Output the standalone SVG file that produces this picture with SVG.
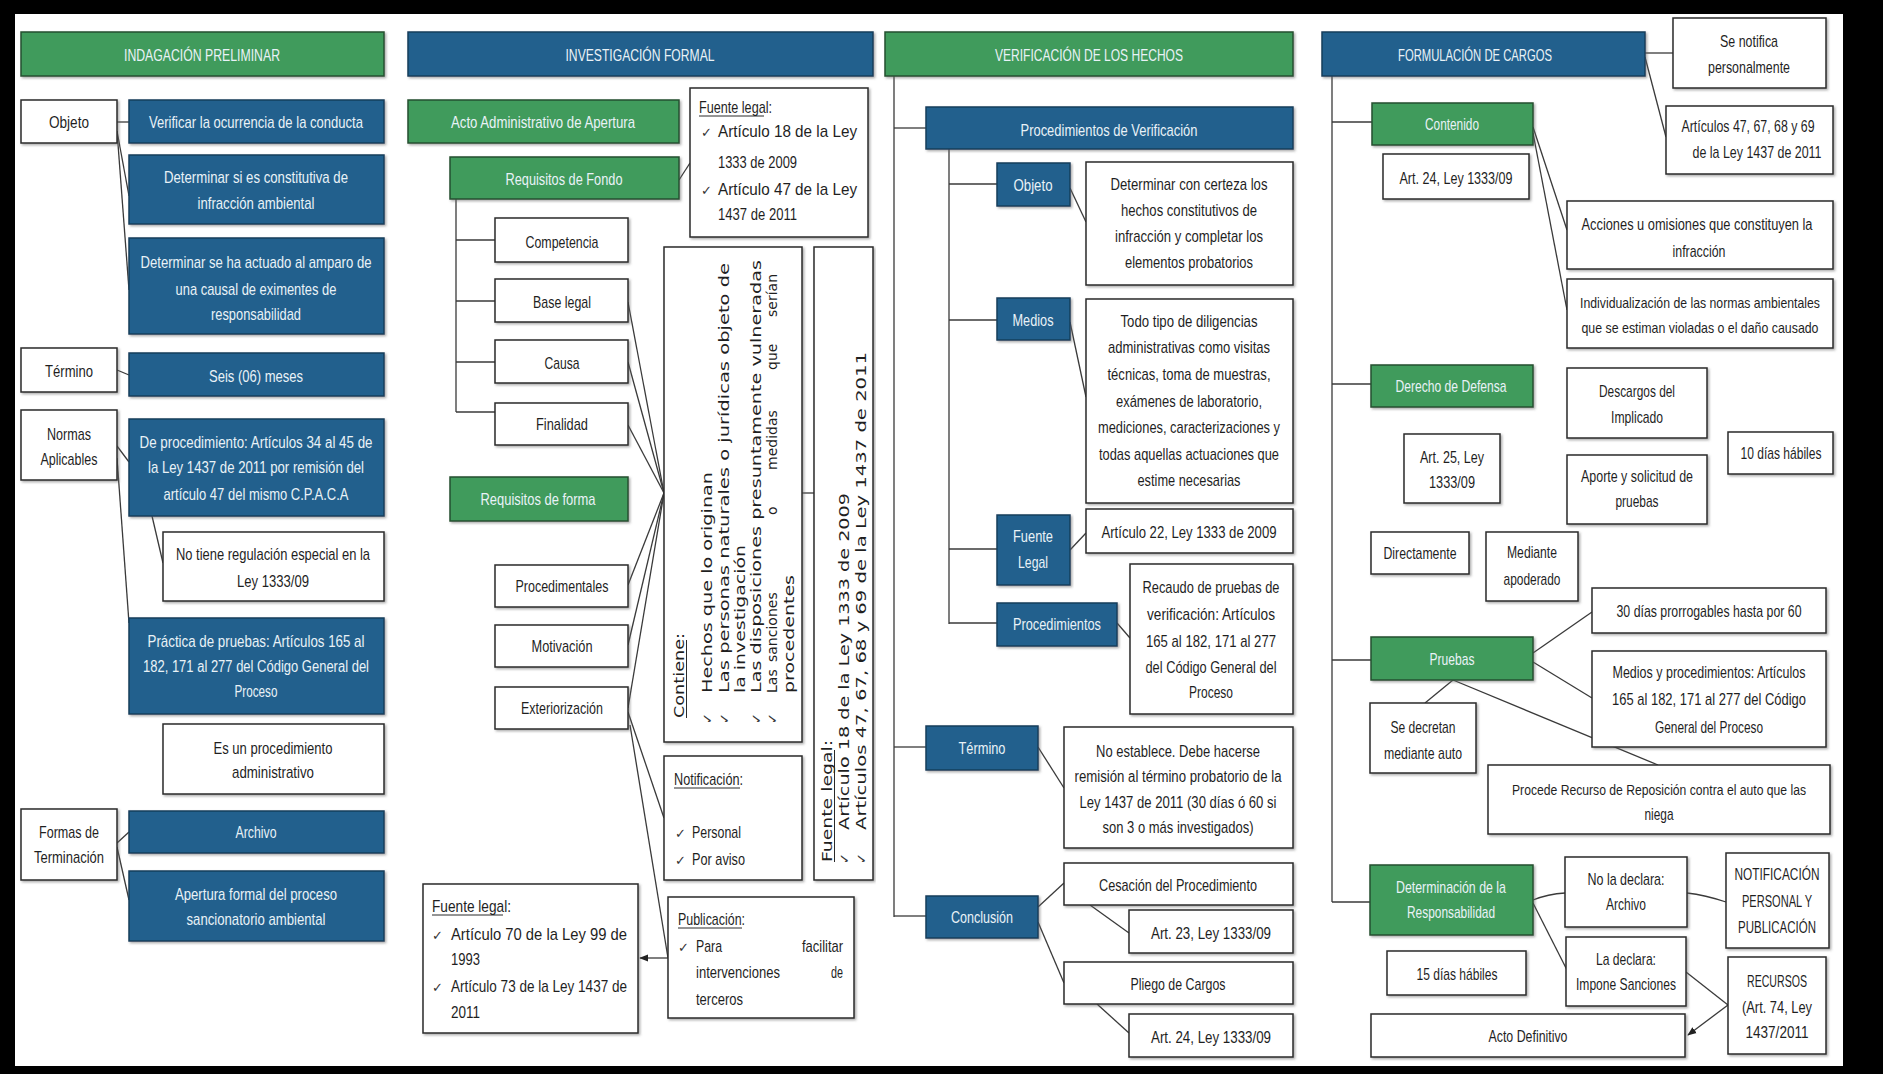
<svg xmlns="http://www.w3.org/2000/svg" width="1883" height="1074" viewBox="0 0 1883 1074">
<defs>
<filter id="sh" x="-5%" y="-5%" width="110%" height="115%"><feDropShadow dx="1.5" dy="1.5" stdDeviation="0.8" flood-color="#666" flood-opacity="0.55"/></filter>
<marker id="ah" viewBox="0 0 10 10" refX="9" refY="5" markerWidth="7" markerHeight="7" orient="auto"><path d="M0,1 L10,5 L0,9 z" fill="#222"/></marker>
</defs>
<style>
text{font-family:"Liberation Sans Narrow","Liberation Sans",Arial,sans-serif;font-size:17px;text-anchor:middle;fill:#1f1f1f}
.nb rect{fill:#23608d;stroke:#173e5c;stroke-width:1.5;filter:url(#sh)}
.ng rect{fill:#419b5c;stroke:#24502f;stroke-width:1.5;filter:url(#sh)}
.nw rect{fill:#fff;stroke:#2a2a2a;stroke-width:1.5;filter:url(#sh)}
.nb text,.ng text{fill:#e9f2f7}
text.lt{text-anchor:start}
text.en{text-anchor:end}
text.sm{font-size:16px}
text.xs{font-size:15px}
text.xxs{font-size:14px}
text.rt{font-family:"DejaVu Sans",Verdana,sans-serif;font-size:14px;text-anchor:start}
text.ck{font-family:"DejaVu Sans",sans-serif;font-size:13px;text-anchor:start;fill:#333}
.ul{stroke:#2a2a2a;stroke-width:1}
#connectors path{fill:none;stroke:#3a3a3a;stroke-width:1.3}
</style>
<rect x="0" y="0" width="1883" height="1074" fill="#000"/>
<rect x="15" y="14" width="1828" height="1052" fill="#fff"/>

<g id="connectors">
<path d="M117,122 L129,122"/>
<path d="M117,131 L129,196"/>
<path d="M117,131 L129,290"/>
<path d="M117,370 L129,375"/>
<path d="M117,446 L129,462"/>
<path d="M117,458 L129,623"/>
<path d="M152,516 L163,563"/>
<path d="M117,843 L129,832"/>
<path d="M117,847 L129,900"/>
<path d="M456,199 L456,412"/>
<path d="M456,240 L495,240"/>
<path d="M456,301 L495,301"/>
<path d="M456,362 L495,362"/>
<path d="M456,412 L495,412"/>
<path d="M679,180 L690,163"/>
<path d="M628,302 L664,493"/>
<path d="M628,362 L664,493"/>
<path d="M628,425 L664,493"/>
<path d="M628,585 L664,493"/>
<path d="M628,645 L664,493"/>
<path d="M628,708 L664,493"/>
<path d="M802,493 L814,493"/>
<path d="M628,712 L664,818"/>
<path d="M630,725 L668,958"/>
<path d="M668,958 L640,958" marker-end="url(#ah)"/>
<path d="M894,72 L894,917"/>
<path d="M894,128 L926,128"/>
<path d="M894,747 L926,747"/>
<path d="M894,916 L926,916"/>
<path d="M949,149 L949,624"/>
<path d="M949,184 L997,184"/>
<path d="M949,320 L997,320"/>
<path d="M949,549 L997,549"/>
<path d="M949,623 L997,623"/>
<path d="M1070,188 L1086,222"/>
<path d="M1070,322 L1086,397"/>
<path d="M1070,550 L1086,533"/>
<path d="M1117,623 L1130,638"/>
<path d="M1038,747 L1064,788"/>
<path d="M1038,907 L1064,883"/>
<path d="M1038,922 L1064,983"/>
<path d="M1090,905 L1129,933"/>
<path d="M1097,1004 L1129,1033"/>
<path d="M1332,76 L1332,902"/>
<path d="M1332,122 L1372,122"/>
<path d="M1332,384 L1371,384"/>
<path d="M1332,660 L1371,660"/>
<path d="M1332,902 L1370,902"/>
<path d="M1645,53 L1673,53"/>
<path d="M1645,57 L1666,137"/>
<path d="M1533,127 L1567,230"/>
<path d="M1533,133 L1567,310"/>
<path d="M1533,653 L1592,612"/>
<path d="M1533,662 L1592,698"/>
<path d="M1453,680 L1425,703"/>
<path d="M1453,680 L1658,765"/>
<path d="M1533,900 Q1548,894 1565,893"/>
<path d="M1533,903 L1567,970"/>
<path d="M1687,893 Q1705,895 1726,902"/>
<path d="M1686,972 L1728,1005"/>
<path d="M1728,1005 L1688,1035" marker-end="url(#ah)"/>
</g>

<!-- Column 1 -->
<g id="ip-header" class="ng"><rect x="21" y="32" width="363" height="44"/><text x="202" y="61" textLength="156" lengthAdjust="spacingAndGlyphs">INDAGACIÓN PRELIMINAR</text></g>
<g id="ip-objeto" class="nw"><rect x="21" y="100" width="96" height="43"/><text x="69" y="128" textLength="40" lengthAdjust="spacingAndGlyphs">Objeto</text></g>
<g id="ip-verificar" class="nb"><rect x="129" y="100" width="255" height="43"/><text x="256" y="128" textLength="214" lengthAdjust="spacingAndGlyphs">Verificar la ocurrencia de la conducta</text></g>
<g id="ip-determinar1" class="nb"><rect x="129" y="155" width="255" height="69"/><text x="256" y="183" textLength="184" lengthAdjust="spacingAndGlyphs">Determinar si es constitutiva de</text><text x="256" y="209" textLength="117" lengthAdjust="spacingAndGlyphs">infracción ambiental</text></g>
<g id="ip-determinar2" class="nb"><rect x="129" y="238" width="255" height="96"/><text x="256" y="268" textLength="231" lengthAdjust="spacingAndGlyphs">Determinar se ha actuado al amparo de</text><text x="256" y="295" textLength="161" lengthAdjust="spacingAndGlyphs">una causal de eximentes de</text><text x="256" y="320" textLength="90" lengthAdjust="spacingAndGlyphs">responsabilidad</text></g>
<g id="ip-termino" class="nw"><rect x="21" y="348" width="96" height="44"/><text x="69" y="377" textLength="48" lengthAdjust="spacingAndGlyphs">Término</text></g>
<g id="ip-seis" class="nb"><rect x="129" y="353" width="255" height="43"/><text x="256" y="382" textLength="94" lengthAdjust="spacingAndGlyphs">Seis (06) meses</text></g>
<g id="ip-normas" class="nw"><rect x="21" y="410" width="96" height="70"/><text x="69" y="440" textLength="44" lengthAdjust="spacingAndGlyphs">Normas</text><text x="69" y="465" textLength="57" lengthAdjust="spacingAndGlyphs">Aplicables</text></g>
<g id="ip-deproc" class="nb"><rect x="129" y="419" width="255" height="97"/><text class="sm" x="256" y="448" textLength="233" lengthAdjust="spacingAndGlyphs">De procedimiento:  Artículos 34 al 45 de</text><text x="256" y="473" textLength="216" lengthAdjust="spacingAndGlyphs">la Ley 1437 de 2011 por remisión del</text><text x="256" y="500" textLength="185" lengthAdjust="spacingAndGlyphs">artículo 47 del mismo C.P.A.C.A</text></g>
<g id="ip-notiene" class="nw"><rect x="163" y="532" width="221" height="69"/><text x="273" y="560" textLength="194" lengthAdjust="spacingAndGlyphs">No tiene regulación especial en la</text><text x="273" y="587" textLength="72" lengthAdjust="spacingAndGlyphs">Ley 1333/09</text></g>
<g id="ip-practica" class="nb"><rect x="129" y="618" width="255" height="96"/><text x="256" y="647" textLength="217" lengthAdjust="spacingAndGlyphs">Práctica de pruebas:  Artículos 165 al</text><text class="sm" x="256" y="672" textLength="226" lengthAdjust="spacingAndGlyphs">182, 171 al 277 del Código General del</text><text x="256" y="697" textLength="43" lengthAdjust="spacingAndGlyphs">Proceso</text></g>
<g id="ip-esun" class="nw"><rect x="163" y="724" width="221" height="70"/><text x="273" y="754" textLength="119" lengthAdjust="spacingAndGlyphs">Es un procedimiento</text><text x="273" y="778" textLength="82" lengthAdjust="spacingAndGlyphs">administrativo</text></g>
<g id="ip-formas" class="nw"><rect x="21" y="809" width="96" height="71"/><text x="69" y="838" textLength="60" lengthAdjust="spacingAndGlyphs">Formas de</text><text x="69" y="863" textLength="70" lengthAdjust="spacingAndGlyphs">Terminación</text></g>
<g id="ip-archivo" class="nb"><rect x="129" y="811" width="255" height="42"/><text x="256" y="838" textLength="41" lengthAdjust="spacingAndGlyphs">Archivo</text></g>
<g id="ip-apertura" class="nb"><rect x="129" y="871" width="255" height="70"/><text x="256" y="900" textLength="162" lengthAdjust="spacingAndGlyphs">Apertura formal del proceso</text><text x="256" y="925" textLength="139" lengthAdjust="spacingAndGlyphs">sancionatorio ambiental</text></g>

<!-- Column 2 -->
<g id="if-header" class="nb"><rect x="408" y="32" width="465" height="44"/><text x="640" y="61" textLength="149" lengthAdjust="spacingAndGlyphs">INVESTIGACIÓN FORMAL</text></g>
<g id="if-acto" class="ng"><rect x="408" y="100" width="271" height="43"/><text x="543" y="128" textLength="184" lengthAdjust="spacingAndGlyphs">Acto Administrativo de Apertura</text></g>
<g id="if-fondo" class="ng"><rect x="450" y="157" width="229" height="42"/><text x="564" y="185" textLength="117" lengthAdjust="spacingAndGlyphs">Requisitos de Fondo</text></g>
<g id="if-fuente1" class="nw"><rect x="690" y="88" width="178" height="149"/>
<text class="lt" x="699" y="113" textLength="73" lengthAdjust="spacingAndGlyphs">Fuente legal:</text><line class="ul" x1="699" y1="116" x2="764" y2="116"/>
<text class="ck" x="701" y="137">✓</text><text class="lt" x="718" y="137" textLength="139" lengthAdjust="spacingAndGlyphs">Artículo 18 de la Ley</text>
<text class="lt" x="718" y="168" textLength="79" lengthAdjust="spacingAndGlyphs">1333 de 2009</text>
<text class="ck" x="701" y="195">✓</text><text class="lt" x="718" y="195" textLength="139" lengthAdjust="spacingAndGlyphs">Artículo 47 de la Ley</text>
<text class="lt" x="718" y="220" textLength="79" lengthAdjust="spacingAndGlyphs">1437 de 2011</text></g>
<g id="if-competencia" class="nw"><rect x="495" y="218" width="133" height="44"/><text x="562" y="248" textLength="73" lengthAdjust="spacingAndGlyphs">Competencia</text></g>
<g id="if-baselegal" class="nw"><rect x="495" y="279" width="133" height="43"/><text x="562" y="308" textLength="58" lengthAdjust="spacingAndGlyphs">Base legal</text></g>
<g id="if-causa" class="nw"><rect x="495" y="340" width="133" height="43"/><text x="562" y="369" textLength="35" lengthAdjust="spacingAndGlyphs">Causa</text></g>
<g id="if-finalidad" class="nw"><rect x="495" y="403" width="133" height="42"/><text x="562" y="430" textLength="52" lengthAdjust="spacingAndGlyphs">Finalidad</text></g>
<g id="if-forma" class="ng"><rect x="450" y="477" width="178" height="44"/><text x="538" y="505" textLength="115" lengthAdjust="spacingAndGlyphs">Requisitos de forma</text></g>
<g id="if-procedimentales" class="nw"><rect x="495" y="565" width="133" height="42"/><text x="562" y="592" textLength="93" lengthAdjust="spacingAndGlyphs">Procedimentales</text></g>
<g id="if-motivacion" class="nw"><rect x="495" y="625" width="133" height="42"/><text x="562" y="652" textLength="61" lengthAdjust="spacingAndGlyphs">Motivación</text></g>
<g id="if-exteriorizacion" class="nw"><rect x="495" y="687" width="133" height="42"/><text x="562" y="714" textLength="82" lengthAdjust="spacingAndGlyphs">Exteriorización</text></g>
<g id="if-contiene" class="nw"><rect x="664" y="247" width="138" height="495"/>
<text class="rt" transform="translate(684,718) rotate(-90)" textLength="85" lengthAdjust="spacingAndGlyphs">Contiene:</text><line class="ul" x1="686.5" y1="718" x2="686.5" y2="640"/>
<text class="ck" transform="translate(712,724) rotate(-90)">✓</text>
<text class="ck" transform="translate(729,724) rotate(-90)">✓</text>
<text class="ck" transform="translate(761,724) rotate(-90)">✓</text>
<text class="ck" transform="translate(777,724) rotate(-90)">✓</text>
<text class="rt" transform="translate(712,693) rotate(-90)" textLength="221" lengthAdjust="spacingAndGlyphs">Hechos que lo originan</text>
<text class="rt" transform="translate(729,693) rotate(-90)" textLength="430" lengthAdjust="spacingAndGlyphs">Las personas naturales o jurídicas objeto de</text>
<text class="rt" transform="translate(745,693) rotate(-90)" textLength="148" lengthAdjust="spacingAndGlyphs">la investigación</text>
<text class="rt" transform="translate(761,693) rotate(-90)" textLength="433" lengthAdjust="spacingAndGlyphs">Las disposiciones presuntamente vulneradas</text>
<text class="rt" transform="translate(777,693) rotate(-90)"><tspan x="0">Las</tspan><tspan x="31">sanciones</tspan><tspan x="178">o</tspan><tspan x="223">medidas</tspan><tspan x="323">que</tspan><tspan x="376">serían</tspan></text>
<text class="rt" transform="translate(794,693) rotate(-90)" textLength="118" lengthAdjust="spacingAndGlyphs">procedentes</text></g>
<g id="if-fuente2" class="nw"><rect x="814" y="247" width="59" height="633"/>
<text class="rt" transform="translate(832,862) rotate(-90)" textLength="122" lengthAdjust="spacingAndGlyphs">Fuente legal:</text><line class="ul" x1="834.5" y1="862" x2="834.5" y2="750"/>
<text class="ck" transform="translate(849,864) rotate(-90)">✓</text>
<text class="ck" transform="translate(866,864) rotate(-90)">✓</text>
<text class="rt" transform="translate(849,830) rotate(-90)" textLength="337" lengthAdjust="spacingAndGlyphs">Artículo 18 de la Ley 1333 de 2009</text>
<text class="rt" transform="translate(866,830) rotate(-90)" textLength="478" lengthAdjust="spacingAndGlyphs">Artículos 47, 67, 68 y 69 de la Ley 1437 de 2011</text></g>
<g id="if-notificacion" class="nw"><rect x="664" y="756" width="138" height="124"/>
<text class="lt" x="674" y="785" textLength="69" lengthAdjust="spacingAndGlyphs">Notificación:</text><line class="ul" x1="674" y1="788" x2="740" y2="788"/>
<text class="ck" x="675" y="838">✓</text><text class="lt" x="692" y="838" textLength="49" lengthAdjust="spacingAndGlyphs">Personal</text>
<text class="ck" x="675" y="865">✓</text><text class="lt" x="692" y="865" textLength="53" lengthAdjust="spacingAndGlyphs">Por aviso</text></g>
<g id="if-publicacion" class="nw"><rect x="668" y="897" width="186" height="121"/>
<text class="lt" x="678" y="925" textLength="67" lengthAdjust="spacingAndGlyphs">Publicación:</text><line class="ul" x1="678" y1="928" x2="742" y2="928"/>
<text class="ck" x="678" y="952">✓</text><text class="lt" x="696" y="952" textLength="26" lengthAdjust="spacingAndGlyphs">Para</text><text class="en" x="843" y="952" textLength="41" lengthAdjust="spacingAndGlyphs">facilitar</text>
<text class="lt" x="696" y="978" textLength="84" lengthAdjust="spacingAndGlyphs">intervenciones</text><text class="en" x="843" y="978" textLength="12" lengthAdjust="spacingAndGlyphs">de</text>
<text class="lt" x="696" y="1005" textLength="47" lengthAdjust="spacingAndGlyphs">terceros</text></g>
<g id="if-fuente3" class="nw"><rect x="423" y="884" width="215" height="149"/>
<text class="lt" x="432" y="912" textLength="79" lengthAdjust="spacingAndGlyphs">Fuente legal:</text><line class="ul" x1="432" y1="915" x2="503" y2="915"/>
<text class="ck" x="432" y="940">✓</text><text class="lt" x="451" y="940" textLength="176" lengthAdjust="spacingAndGlyphs">Artículo 70 de la Ley 99 de</text>
<text class="lt" x="451" y="965" textLength="29" lengthAdjust="spacingAndGlyphs">1993</text>
<text class="ck" x="432" y="992">✓</text><text class="lt" x="451" y="992" textLength="176" lengthAdjust="spacingAndGlyphs">Artículo 73 de la Ley 1437 de</text>
<text class="lt" x="451" y="1018" textLength="29" lengthAdjust="spacingAndGlyphs">2011</text></g>

<!-- Column 3 -->
<g id="vh-header" class="ng"><rect x="885" y="32" width="408" height="44"/><text x="1089" y="61" textLength="188" lengthAdjust="spacingAndGlyphs">VERIFICACIÓN DE LOS HECHOS</text></g>
<g id="vh-procver" class="nb"><rect x="926" y="107" width="367" height="42"/><text x="1109" y="136" textLength="177" lengthAdjust="spacingAndGlyphs">Procedimientos de Verificación</text></g>
<g id="vh-objeto" class="nb"><rect x="997" y="163" width="73" height="43"/><text x="1033" y="191" textLength="39" lengthAdjust="spacingAndGlyphs">Objeto</text></g>
<g id="vh-objeto-desc" class="nw"><rect x="1086" y="162" width="207" height="123"/><text x="1189" y="190" textLength="157" lengthAdjust="spacingAndGlyphs">Determinar con certeza los</text><text x="1189" y="216" textLength="136" lengthAdjust="spacingAndGlyphs">hechos constitutivos de</text><text x="1189" y="242" textLength="148" lengthAdjust="spacingAndGlyphs">infracción y completar los</text><text x="1189" y="268" textLength="128" lengthAdjust="spacingAndGlyphs">elementos probatorios</text></g>
<g id="vh-medios" class="nb"><rect x="997" y="298" width="73" height="42"/><text x="1033" y="326" textLength="41" lengthAdjust="spacingAndGlyphs">Medios</text></g>
<g id="vh-medios-desc" class="nw"><rect x="1086" y="299" width="207" height="204"/><text x="1189" y="327" textLength="137" lengthAdjust="spacingAndGlyphs">Todo tipo de diligencias</text><text x="1189" y="353" textLength="162" lengthAdjust="spacingAndGlyphs">administrativas como visitas</text><text x="1189" y="380" textLength="163" lengthAdjust="spacingAndGlyphs">técnicas, toma de muestras,</text><text x="1189" y="407" textLength="146" lengthAdjust="spacingAndGlyphs">exámenes de laboratorio,</text><text x="1189" y="433" textLength="182" lengthAdjust="spacingAndGlyphs">mediciones, caracterizaciones y</text><text x="1189" y="460" textLength="180" lengthAdjust="spacingAndGlyphs">todas aquellas actuaciones que</text><text x="1189" y="486" textLength="103" lengthAdjust="spacingAndGlyphs">estime necesarias</text></g>
<g id="vh-fuente" class="nb"><rect x="997" y="515" width="73" height="70"/><text x="1033" y="542" textLength="40" lengthAdjust="spacingAndGlyphs">Fuente</text><text x="1033" y="568" textLength="30" lengthAdjust="spacingAndGlyphs">Legal</text></g>
<g id="vh-fuente-desc" class="nw"><rect x="1086" y="509" width="207" height="44"/><text x="1189" y="538" textLength="175" lengthAdjust="spacingAndGlyphs">Artículo 22, Ley 1333 de 2009</text></g>
<g id="vh-procs" class="nb"><rect x="997" y="603" width="120" height="43"/><text x="1057" y="630" textLength="88" lengthAdjust="spacingAndGlyphs">Procedimientos</text></g>
<g id="vh-procs-desc" class="nw"><rect x="1130" y="564" width="163" height="150"/><text x="1211" y="593" textLength="137" lengthAdjust="spacingAndGlyphs">Recaudo de pruebas de</text><text x="1211" y="620" textLength="128" lengthAdjust="spacingAndGlyphs">verificación:  Artículos</text><text x="1211" y="647" textLength="130" lengthAdjust="spacingAndGlyphs">165 al 182, 171 al 277</text><text x="1211" y="673" textLength="131" lengthAdjust="spacingAndGlyphs">del Código General del</text><text x="1211" y="698" textLength="44" lengthAdjust="spacingAndGlyphs">Proceso</text></g>
<g id="vh-termino" class="nb"><rect x="926" y="726" width="112" height="44"/><text x="982" y="754" textLength="47" lengthAdjust="spacingAndGlyphs">Término</text></g>
<g id="vh-termino-desc" class="nw"><rect x="1064" y="727" width="229" height="121"/><text x="1178" y="757" textLength="164" lengthAdjust="spacingAndGlyphs">No establece.  Debe hacerse</text><text class="sm" x="1178" y="782" textLength="207" lengthAdjust="spacingAndGlyphs">remisión al término probatorio de la</text><text x="1178" y="808" textLength="197" lengthAdjust="spacingAndGlyphs">Ley 1437 de 2011 (30 días ó 60 si</text><text x="1178" y="833" textLength="151" lengthAdjust="spacingAndGlyphs">son 3 o más investigados)</text></g>
<g id="vh-conclusion" class="nb"><rect x="926" y="896" width="112" height="42"/><text x="982" y="923" textLength="62" lengthAdjust="spacingAndGlyphs">Conclusión</text></g>
<g id="vh-cesacion" class="nw"><rect x="1064" y="863" width="229" height="42"/><text x="1178" y="891" textLength="158" lengthAdjust="spacingAndGlyphs">Cesación del Procedimiento</text></g>
<g id="vh-art23" class="nw"><rect x="1129" y="910" width="164" height="43"/><text x="1211" y="939" textLength="120" lengthAdjust="spacingAndGlyphs">Art. 23, Ley 1333/09</text></g>
<g id="vh-pliego" class="nw"><rect x="1064" y="962" width="229" height="42"/><text x="1178" y="990" textLength="95" lengthAdjust="spacingAndGlyphs">Pliego de Cargos</text></g>
<g id="vh-art24" class="nw"><rect x="1129" y="1014" width="164" height="43"/><text x="1211" y="1043" textLength="120" lengthAdjust="spacingAndGlyphs">Art. 24, Ley 1333/09</text></g>

<!-- Column 4 -->
<g id="fc-header" class="nb"><rect x="1322" y="32" width="323" height="44"/><text x="1475" y="61" textLength="154" lengthAdjust="spacingAndGlyphs">FORMULACIÓN DE CARGOS</text></g>
<g id="fc-notifica" class="nw"><rect x="1673" y="18" width="153" height="70"/><text x="1749" y="47" textLength="58" lengthAdjust="spacingAndGlyphs">Se notifica</text><text x="1749" y="73" textLength="82" lengthAdjust="spacingAndGlyphs">personalmente</text></g>
<g id="fc-articulos" class="nw"><rect x="1666" y="106" width="167" height="68"/><text x="1748" y="132" textLength="133" lengthAdjust="spacingAndGlyphs">Artículos 47, 67, 68 y 69</text><text x="1757" y="158" textLength="129" lengthAdjust="spacingAndGlyphs">de la Ley 1437 de 2011</text></g>
<g id="fc-contenido" class="ng"><rect x="1372" y="103" width="161" height="42"/><text x="1452" y="130" textLength="54" lengthAdjust="spacingAndGlyphs">Contenido</text></g>
<g id="fc-art24" class="nw"><rect x="1383" y="154" width="146" height="45"/><text x="1456" y="184" textLength="113" lengthAdjust="spacingAndGlyphs">Art. 24, Ley 1333/09</text></g>
<g id="fc-acciones" class="nw"><rect x="1567" y="201" width="266" height="68"/><text class="sm" x="1697" y="230" textLength="231" lengthAdjust="spacingAndGlyphs">Acciones u omisiones que constituyen la</text><text x="1699" y="257" textLength="53" lengthAdjust="spacingAndGlyphs">infracción</text></g>
<g id="fc-individ" class="nw"><rect x="1567" y="279" width="266" height="69"/><text class="xs" x="1700" y="308" textLength="240" lengthAdjust="spacingAndGlyphs">Individualización de las normas ambientales</text><text class="xs" x="1700" y="333" textLength="237" lengthAdjust="spacingAndGlyphs">que se estiman violadas o el daño causado</text></g>
<g id="fc-defensa" class="ng"><rect x="1371" y="365" width="162" height="42"/><text x="1451" y="392" textLength="111" lengthAdjust="spacingAndGlyphs">Derecho de Defensa</text></g>
<g id="fc-descargos" class="nw"><rect x="1567" y="368" width="140" height="70"/><text x="1637" y="397" textLength="76" lengthAdjust="spacingAndGlyphs">Descargos del</text><text x="1637" y="423" textLength="52" lengthAdjust="spacingAndGlyphs">Implicado</text></g>
<g id="fc-aporte" class="nw"><rect x="1567" y="455" width="140" height="69"/><text x="1637" y="482" textLength="112" lengthAdjust="spacingAndGlyphs">Aporte y solicitud de</text><text x="1637" y="507" textLength="43" lengthAdjust="spacingAndGlyphs">pruebas</text></g>
<g id="fc-10dias" class="nw"><rect x="1728" y="432" width="105" height="42"/><text x="1781" y="459" textLength="81" lengthAdjust="spacingAndGlyphs">10 días hábiles</text></g>
<g id="fc-art25" class="nw"><rect x="1404" y="434" width="96" height="69"/><text x="1452" y="463" textLength="64" lengthAdjust="spacingAndGlyphs">Art. 25, Ley</text><text x="1452" y="488" textLength="46" lengthAdjust="spacingAndGlyphs">1333/09</text></g>
<g id="fc-directamente" class="nw"><rect x="1371" y="532" width="98" height="42"/><text x="1420" y="559" textLength="73" lengthAdjust="spacingAndGlyphs">Directamente</text></g>
<g id="fc-mediante" class="nw"><rect x="1486" y="532" width="92" height="69"/><text x="1532" y="558" textLength="50" lengthAdjust="spacingAndGlyphs">Mediante</text><text x="1532" y="585" textLength="57" lengthAdjust="spacingAndGlyphs">apoderado</text></g>
<g id="fc-30dias" class="nw"><rect x="1592" y="588" width="234" height="45"/><text x="1709" y="617" textLength="185" lengthAdjust="spacingAndGlyphs">30 días prorrogables hasta por 60</text></g>
<g id="fc-pruebas" class="ng"><rect x="1371" y="637" width="162" height="43"/><text x="1452" y="665" textLength="45" lengthAdjust="spacingAndGlyphs">Pruebas</text></g>
<g id="fc-medios" class="nw"><rect x="1592" y="651" width="234" height="96"/><text x="1709" y="678" textLength="193" lengthAdjust="spacingAndGlyphs">Medios y procedimientos:  Artículos</text><text x="1709" y="705" textLength="194" lengthAdjust="spacingAndGlyphs">165 al 182, 171 al 277 del Código</text><text x="1709" y="733" textLength="108" lengthAdjust="spacingAndGlyphs">General del Proceso</text></g>
<g id="fc-decretan" class="nw"><rect x="1370" y="703" width="106" height="70"/><text x="1423" y="733" textLength="65" lengthAdjust="spacingAndGlyphs">Se decretan</text><text x="1423" y="759" textLength="78" lengthAdjust="spacingAndGlyphs">mediante auto</text></g>
<g id="fc-procede" class="nw"><rect x="1488" y="765" width="342" height="69"/><text class="xxs" x="1659" y="795" textLength="294" lengthAdjust="spacingAndGlyphs">Procede Recurso de Reposición contra el auto que las</text><text x="1659" y="820" textLength="29" lengthAdjust="spacingAndGlyphs">niega</text></g>
<g id="fc-determinacion" class="ng"><rect x="1370" y="865" width="163" height="70"/><text x="1451" y="893" textLength="110" lengthAdjust="spacingAndGlyphs">Determinación de la</text><text x="1451" y="918" textLength="88" lengthAdjust="spacingAndGlyphs">Responsabilidad</text></g>
<g id="fc-nodeclara" class="nw"><rect x="1565" y="857" width="122" height="70"/><text x="1626" y="885" textLength="77" lengthAdjust="spacingAndGlyphs">No la declara:</text><text x="1626" y="910" textLength="40" lengthAdjust="spacingAndGlyphs">Archivo</text></g>
<g id="fc-notif-pub" class="nw"><rect x="1726" y="853" width="103" height="95"/><text x="1777" y="880" textLength="85" lengthAdjust="spacingAndGlyphs">NOTIFICACIÓN</text><text x="1777" y="907" textLength="70" lengthAdjust="spacingAndGlyphs">PERSONAL Y</text><text x="1777" y="933" textLength="78" lengthAdjust="spacingAndGlyphs">PUBLICACIÓN</text></g>
<g id="fc-declara" class="nw"><rect x="1566" y="937" width="120" height="69"/><text x="1626" y="965" textLength="60" lengthAdjust="spacingAndGlyphs">La declara:</text><text x="1626" y="990" textLength="100" lengthAdjust="spacingAndGlyphs">Impone Sanciones</text></g>
<g id="fc-15dias" class="nw"><rect x="1387" y="951" width="139" height="44"/><text x="1457" y="980" textLength="81" lengthAdjust="spacingAndGlyphs">15 días hábiles</text></g>
<g id="fc-recursos" class="nw"><rect x="1728" y="957" width="98" height="97"/><text x="1777" y="987" textLength="60" lengthAdjust="spacingAndGlyphs">RECURSOS</text><text x="1777" y="1013" textLength="70" lengthAdjust="spacingAndGlyphs">(Art. 74, Ley</text><text x="1777" y="1038" textLength="63" lengthAdjust="spacingAndGlyphs">1437/2011</text></g>
<g id="fc-acto" class="nw"><rect x="1371" y="1014" width="314" height="43"/><text x="1528" y="1042" textLength="79" lengthAdjust="spacingAndGlyphs">Acto Definitivo</text></g>
</svg>
